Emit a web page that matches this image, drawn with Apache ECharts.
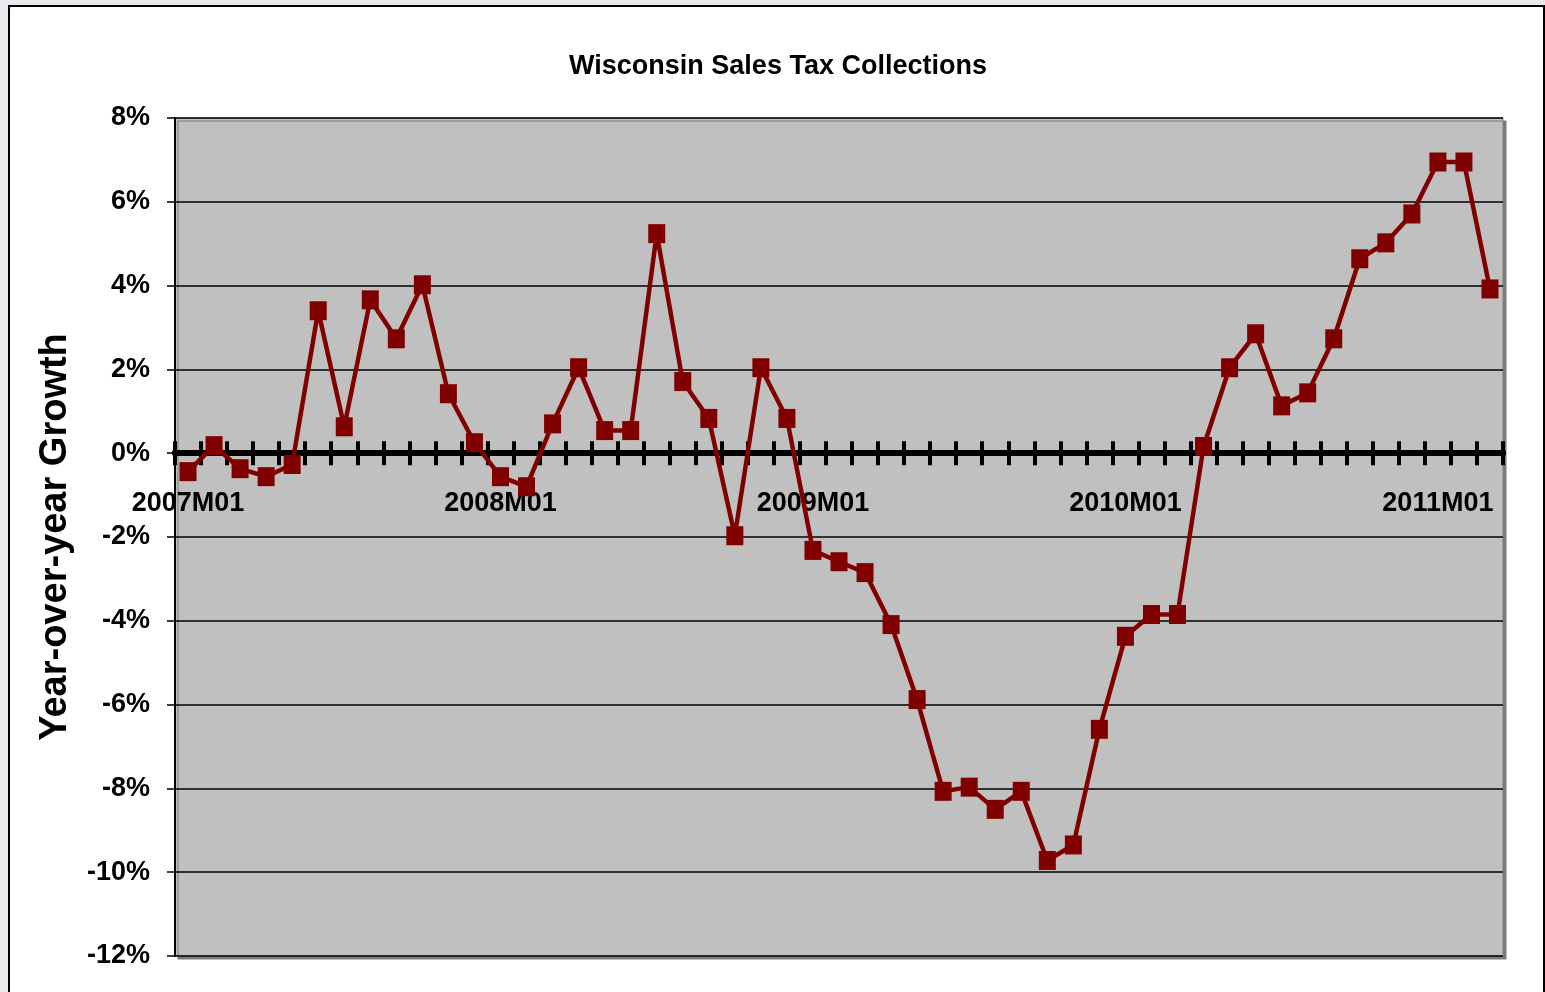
<!DOCTYPE html>
<html>
<head>
<meta charset="utf-8">
<script src="https://cdn.jsdelivr.net/npm/echarts@6/dist/echarts.min.js"></script>
<style>
  html, body { margin: 0; padding: 0; width: 1545px; height: 992px; overflow: hidden; background: #e9e9ee; }
  #frame { position: absolute; left: 8px; top: 5px; width: 1533px; height: 1000px; border: 2px solid #000; background: #fff; }
  #chart { position: absolute; left: 0; top: 0; width: 1545px; height: 992px; }
</style>
</head>
<body>
<div id="frame"></div>
<div id="chart"></div>
<script>
const titleText = 'Wisconsin Sales Tax Collections';
const yAxisName = 'Year-over-year Growth';
const years = [2007, 2008, 2009, 2010, 2011];
const months = ['01','02','03','04','05','06','07','08','09','10','11','12'];
const categories = [];
years.forEach(y => months.forEach(m => categories.push(y + 'M' + m)));
categories.length = 51; // 2007M01 .. 2011M03

const growth = [
  -0.44, 0.18, -0.37, -0.56, -0.27, 3.40, 0.63, 3.66, 2.73, 4.02, 1.42, 0.25,
  -0.56, -0.80, 0.70, 2.04, 0.54, 0.54, 5.24, 1.71, 0.83, -1.97, 2.04, 0.83,
  -2.32, -2.59, -2.85, -4.09, -5.88, -8.07, -7.97, -8.50, -8.07, -9.72, -9.35, -6.59,
  -4.37, -3.85, -3.85, 0.16, 2.04, 2.85, 1.13, 1.44, 2.73, 4.64, 5.02, 5.71,
  6.95, 6.95, 3.92
];

const yMin = -12, yMax = 8, yStep = 2;
const FONT = '"Liberation Sans", Arial, sans-serif';

// grid geometry
const GL = 175, GR = 42, GT = 118, GB = 36;
const H = 992;
const plotH = H - GT - GB;
const zeroFromTop = plotH * (yMax - 0) / (yMax - yMin);
const zeroFromBottom = plotH - zeroFromTop;

const chart = echarts.init(document.getElementById('chart'), null, { renderer: 'canvas' });
chart.setOption({
  backgroundColor: 'transparent',
  animation: false,
  title: {
    text: titleText,
    left: 773, top: 48,
    textAlign: 'center',
    textStyle: { fontFamily: FONT, fontSize: 27, fontWeight: 'bold', color: '#000' }
  },
  grid: {
    left: GL, right: GR, top: GT, bottom: GB,
    containLabel: false,
    outerBoundsMode: 'none',
    show: true,
    backgroundColor: '#c0c0c0',
    borderColor: '#808080',
    borderWidth: 1,
    shadowColor: '#7a7a7a',
    shadowBlur: 0,
    shadowOffsetX: 3,
    shadowOffsetY: 3
  },
  xAxis: [
    {
      type: 'category',
      data: categories,
      boundaryGap: true,
      position: 'bottom',
      offset: -zeroFromBottom,
      axisLine: { onZero: false, lineStyle: { color: '#000', width: 6 } },
      axisTick: { show: true, interval: 0, length: 12, inside: false, lineStyle: { color: '#000', width: 4 } },
      axisLabel: {
        interval: 11, margin: 37,
        fontFamily: FONT, fontSize: 27, fontWeight: 'bold', color: '#000'
      },
      splitLine: { show: false }
    },
    {
      type: 'category',
      data: categories,
      boundaryGap: true,
      position: 'top',
      offset: -zeroFromTop,
      axisLine: { onZero: false, lineStyle: { color: '#000', width: 6 } },
      axisTick: { show: true, interval: 0, length: 12, inside: false, lineStyle: { color: '#000', width: 4 } },
      axisLabel: { show: false },
      splitLine: { show: false }
    }
  ],
  yAxis: {
    type: 'value',
    min: yMin, max: yMax, interval: yStep,
    name: yAxisName,
    nameLocation: 'middle',
    nameGap: 100,
    nameRotate: 90,
    nameTextStyle: { fontFamily: FONT, fontSize: 38, fontWeight: 'bold', color: '#000', padding: [0, 0, 0, 0] },
    axisLine: { show: true, onZero: false, lineStyle: { color: '#000', width: 2 } },
    axisTick: { show: true, length: 8, lineStyle: { color: '#000', width: 1.5 } },
    axisLabel: {
      margin: 25,
      padding: [7, 0, 0, 0],
      formatter: '{value}%',
      fontFamily: FONT, fontSize: 27, fontWeight: 'bold', color: '#000'
    },
    splitLine: { show: true, lineStyle: { color: '#000', width: 1.5 } }
  },
  series: [{
    type: 'line',
    xAxisIndex: 0,
    data: growth,
    symbol: 'rect',
    symbolSize: [17, 19],
    showAllSymbol: true,
    lineStyle: { color: '#800000', width: 4.5 },
    itemStyle: { color: '#800000', borderColor: '#800000', borderWidth: 0 },
    z: 5
  }]
});
</script>
</body>
</html>
